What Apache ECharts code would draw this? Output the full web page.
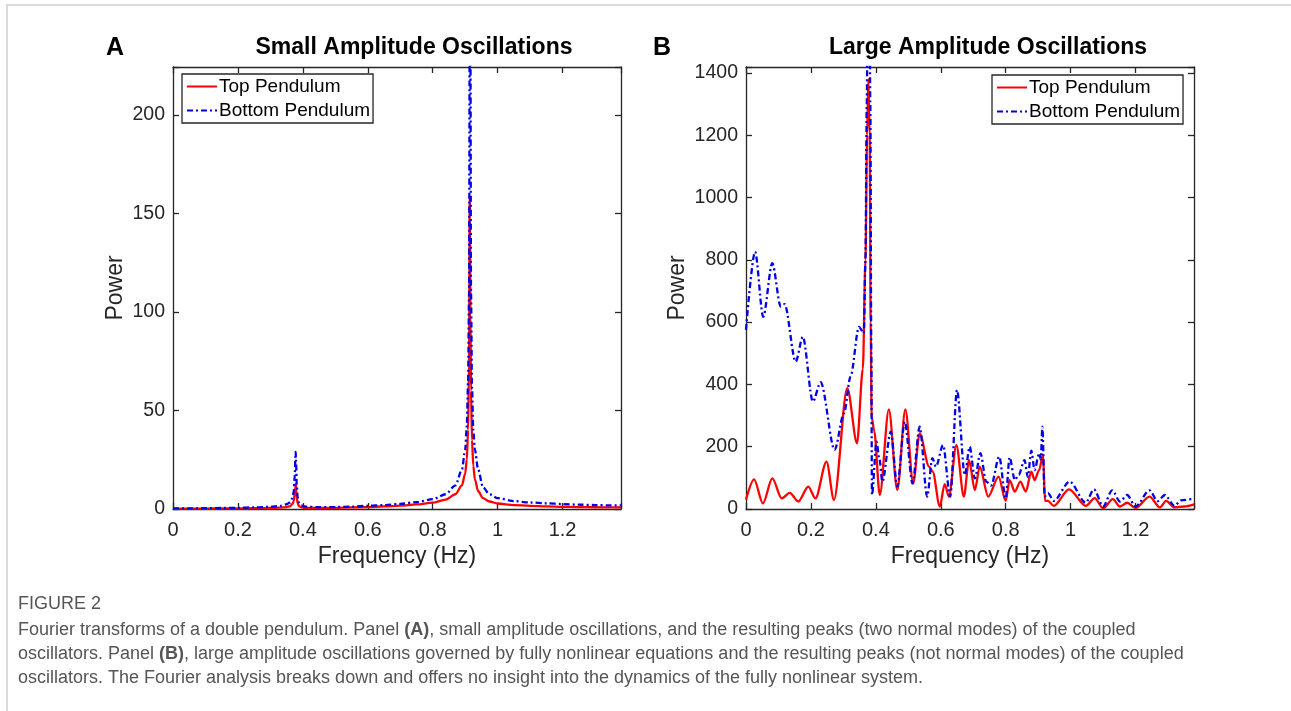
<!DOCTYPE html>
<html>
<head>
<meta charset="utf-8">
<script src="https://cdn.jsdelivr.net/npm/echarts@6/dist/echarts.min.js"></script>
<style>
html,body{margin:0;padding:0;background:#fff;}
#chart{width:1291px;height:711px;}
</style>
</head>
<body>
<div id="chart"></div>
<script>
// ---------- Panel A: small amplitude ----------
const freqA = [0, 0.05, 0.1, 0.15, 0.2, 0.25, 0.3, 0.33, 0.35, 0.36, 0.368, 0.372, 0.375, 0.377, 0.378, 0.379, 0.381, 0.384, 0.388, 0.395, 0.41, 0.45, 0.5, 0.55, 0.6, 0.65, 0.7, 0.75, 0.8, 0.84, 0.87, 0.89, 0.9, 0.905, 0.909, 0.912, 0.914, 0.915, 0.916, 0.918, 0.921, 0.925, 0.93, 0.94, 0.955, 0.975, 1.0, 1.05, 1.1, 1.15, 1.2, 1.25, 1.3, 1.35, 1.38];
const topA = [0.2, 0.2, 0.2, 0.3, 0.3, 0.4, 0.5, 0.7, 1.0, 1.4, 2.5, 4, 8, 11, 13, 10, 6, 3, 1.5, 0.9, 0.6, 0.5, 0.6, 0.8, 1.0, 1.3, 1.7, 2.3, 3.2, 4.8, 7.5, 12, 18, 25, 40, 75, 158, 150, 100, 60, 35, 22, 15, 9, 5.5, 3.8, 2.8, 2.0, 1.6, 1.3, 1.1, 1.0, 0.9, 0.8, 0.8];
const bottomA = [0.3, 0.3, 0.4, 0.5, 0.6, 0.8, 1.1, 1.6, 2.4, 3.3, 5.5, 9, 17, 26, 29, 24, 13, 6, 3.2, 1.8, 1.2, 0.9, 1.0, 1.2, 1.6, 2.0, 2.6, 3.5, 5.0, 7.5, 12, 20, 30, 42, 65, 110, 250, 400, 250, 110, 62, 40, 30, 20, 11, 7.5, 5.5, 4.0, 3.3, 2.9, 2.5, 2.2, 2.0, 1.8, 1.8];

// ---------- Panel B: large amplitude ----------
const freqBTop = [0.0, 0.025, 0.052, 0.081, 0.110, 0.135, 0.161, 0.192, 0.214, 0.248, 0.271, 0.312, 0.342, 0.36, 0.368, 0.373, 0.377, 0.381, 0.384, 0.387, 0.395, 0.412, 0.44, 0.466, 0.491, 0.515, 0.535, 0.564, 0.575, 0.597, 0.612, 0.625, 0.648, 0.671, 0.687, 0.705, 0.72, 0.746, 0.778, 0.8, 0.812, 0.828, 0.845, 0.862, 0.879, 0.889, 0.903, 0.915, 0.921, 0.93, 0.948, 0.995, 1.047, 1.074, 1.1, 1.13, 1.152, 1.174, 1.2, 1.243, 1.275, 1.294, 1.32, 1.35, 1.38];
const topB = [30, 95, 18, 98, 34, 52, 24, 72, 34, 152, 29, 388, 211, 450, 800, 1200, 1380, 1200, 600, 296, 250, 45, 320, 61, 320, 82, 243, 136, 120, 8, 80, 40, 205, 40, 157, 61, 136, 40, 104, 26, 93, 56, 88, 56, 120, 93, 125, 175, 26, 26, 10, 63, 10, 35, 2, 32, 8, 20, 3, 40, 5, 26, 5, 8, 15];
const freqBBottom = [0.0, 0.028, 0.053, 0.081, 0.107, 0.119, 0.153, 0.175, 0.206, 0.230, 0.273, 0.302, 0.322, 0.348, 0.363, 0.368, 0.372, 0.375, 0.38, 0.383, 0.386, 0.388, 0.402, 0.411, 0.42, 0.446, 0.466, 0.489, 0.513, 0.535, 0.558, 0.574, 0.585, 0.607, 0.629, 0.65, 0.674, 0.689, 0.705, 0.722, 0.74, 0.755, 0.78, 0.8, 0.812, 0.828, 0.84, 0.858, 0.868, 0.879, 0.889, 0.903, 0.908, 0.913, 0.92, 0.93, 0.948, 0.997, 1.046, 1.072, 1.1, 1.128, 1.152, 1.174, 1.2, 1.243, 1.268, 1.29, 1.32, 1.34, 1.38];
const bottomB = [575, 826, 617, 789, 650, 658, 473, 553, 345, 407, 190, 308, 425, 585, 564, 800, 1300, 1700, 1700, 1300, 500, 45, 216, 160, 88, 248, 72, 280, 82, 264, 40, 163, 136, 205, 40, 382, 109, 200, 98, 179, 88, 75, 168, 34, 166, 93, 110, 157, 103, 187, 125, 179, 160, 264, 40, 51, 26, 88, 20, 63, 8, 60, 24, 45, 8, 60, 25, 45, 10, 28, 33];

const xTickLabels = ['0', '0.2', '0.4', '0.6', '0.8', '1', '1.2'];
const yTicksA = [0, 50, 100, 150, 200];
const yTicksB = [0, 200, 400, 600, 800, 1000, 1200, 1400];

function zip(xs, ys) { return xs.map((x, i) => [x, ys[i]]); }

const AX = '#262626';
const FONT = 'Liberation Sans, Arial, sans-serif';
const axisLineStyle = { color: AX, width: 1.3 };

function xAxisFor(grid, bottom) {
  return {
    gridIndex: grid, type: 'value', min: 0, max: 1.38, interval: 0.2,
    position: bottom ? 'bottom' : 'top',
    axisLine: { show: true, onZero: false, lineStyle: axisLineStyle },
    axisTick: { show: true, inside: true, length: 6, lineStyle: axisLineStyle },
    axisLabel: bottom ? {
      show: true, fontSize: 20, color: AX, fontFamily: FONT, margin: 11,
      formatter: v => { const k = Math.round(v / 0.2); return Math.abs(v - k * 0.2) < 1e-6 && k < xTickLabels.length ? xTickLabels[k] : ''; }
    } : { show: false },
    splitLine: { show: false },
    name: bottom ? 'Frequency (Hz)' : '', nameLocation: 'middle', nameGap: 33,
    nameTextStyle: { fontSize: 23, color: AX, fontFamily: FONT }
  };
}
function yAxisFor(grid, left, max, interval, ticks, gap) {
  return {
    gridIndex: grid, type: 'value', min: 0, max: max, interval: interval,
    position: left ? 'left' : 'right',
    axisLine: { show: true, onZero: false, lineStyle: axisLineStyle },
    axisTick: { show: true, inside: true, length: 6, lineStyle: axisLineStyle },
    axisLabel: left ? {
      show: true, fontSize: 19.5, color: AX, fontFamily: FONT, margin: 8,
      formatter: v => ticks.indexOf(Math.round(v)) >= 0 && Math.abs(v - Math.round(v)) < 1e-6 ? String(Math.round(v)) : ''
    } : { show: false },
    splitLine: { show: false },
    name: left ? 'Power' : '', nameLocation: 'middle', nameGap: gap,
    nameTextStyle: { fontSize: 23, color: AX, fontFamily: FONT }
  };
}

const redStyle = { color: '#ff0000', width: 2.3 };
const blueStyle = { color: '#0000e6', width: 2.3, type: [6, 3, 2, 3] };

function lineSeries(name, xi, data, style) {
  return {
    name: name, type: 'line', xAxisIndex: xi, yAxisIndex: xi, data: data,
    symbol: 'none', showSymbol: false, smooth: 0.3, smoothMonotone: 'x',
    lineStyle: style, itemStyle: { color: style.color }, clip: true, animation: false
  };
}

const legendCommon = {
  orient: 'vertical', itemWidth: 30, itemHeight: 18, itemGap: 5,
  padding: [3, 3, 3, 4], backgroundColor: '#fff', borderColor: AX, borderWidth: 1.3,
  itemStyle: { opacity: 0 },
  textStyle: { fontSize: 19, color: '#000', fontFamily: FONT, padding: [0, 0, 0, -3] },
  data: ['Top Pendulum', 'Bottom Pendulum'], selectedMode: false
};

const capStyle = { fill: '#555', fontSize: 18, fontFamily: FONT };
const capRich = { b: { fontWeight: 'bold', fontSize: 18, fontFamily: FONT, fill: '#555' } };

const option = {
  backgroundColor: '#fff',
  animation: false,
  grid: [
    { left: 173, top: 67, width: 448, height: 442 },
    { left: 746, top: 67, width: 448, height: 442 }
  ],
  xAxis: [xAxisFor(0, true), xAxisFor(1, true), xAxisFor(0, false), xAxisFor(1, false)],
  yAxis: [
    yAxisFor(0, true, 224.4, 50, yTicksA, 46),
    yAxisFor(1, true, 1419, 200, yTicksB, 57),
    yAxisFor(0, false, 224.4, 50, yTicksA, 0),
    yAxisFor(1, false, 1419, 200, yTicksB, 0)
  ],
  legend: [
    Object.assign({ left: 182, top: 74 }, legendCommon),
    Object.assign({ left: 992, top: 75 }, legendCommon)
  ],
  series: [
    lineSeries('Top Pendulum', 0, zip(freqA, topA), redStyle),
    lineSeries('Bottom Pendulum', 0, zip(freqA, bottomA), blueStyle),
    lineSeries('Top Pendulum', 1, zip(freqBTop, topB), redStyle),
    lineSeries('Bottom Pendulum', 1, zip(freqBBottom, bottomB), blueStyle)
  ],
  graphic: [
    { type: 'rect', silent: true, z: -10, shape: { x: 7, y: 5, width: 1300, height: 720 }, style: { fill: 'none', stroke: '#d0d0d0', lineWidth: 1.5 } },
    { type: 'text', x: 115, y: 48, style: { text: 'A', fontSize: 25, fontWeight: 'bold', fontFamily: FONT, fill: '#000', textAlign: 'center', textVerticalAlign: 'middle' } },
    { type: 'text', x: 662, y: 48, style: { text: 'B', fontSize: 25, fontWeight: 'bold', fontFamily: FONT, fill: '#000', textAlign: 'center', textVerticalAlign: 'middle' } },
    { type: 'text', x: 414, y: 48, style: { text: 'Small Amplitude Oscillations', fontSize: 23, fontWeight: 'bold', fontFamily: FONT, fill: '#000', textAlign: 'center', textVerticalAlign: 'middle' } },
    { type: 'text', x: 988, y: 48, style: { text: 'Large Amplitude Oscillations', fontSize: 23, fontWeight: 'bold', fontFamily: FONT, fill: '#000', textAlign: 'center', textVerticalAlign: 'middle' } },
    { type: 'text', x: 18, y: 604, style: { text: 'FIGURE 2', fontSize: 18, fontFamily: FONT, fill: '#555', textVerticalAlign: 'middle' } },
    { type: 'text', x: 18, y: 630, style: Object.assign({ text: 'Fourier transforms of a double pendulum. Panel {b|(A)}, small amplitude oscillations, and the resulting peaks (two normal modes) of the coupled', textVerticalAlign: 'middle', rich: capRich }, capStyle) },
    { type: 'text', x: 18, y: 654, style: Object.assign({ text: 'oscillators. Panel {b|(B)}, large amplitude oscillations governed by fully nonlinear equations and the resulting peaks (not normal modes) of the coupled', textVerticalAlign: 'middle', rich: capRich }, capStyle) },
    { type: 'text', x: 18, y: 678, style: Object.assign({ text: 'oscillators. The Fourier analysis breaks down and offers no insight into the dynamics of the fully nonlinear system.', textVerticalAlign: 'middle' }, capStyle) }
  ]
};

const chart = echarts.init(document.getElementById('chart'), null, { renderer: 'canvas' });
chart.setOption(option);
</script>
</body>
</html>
